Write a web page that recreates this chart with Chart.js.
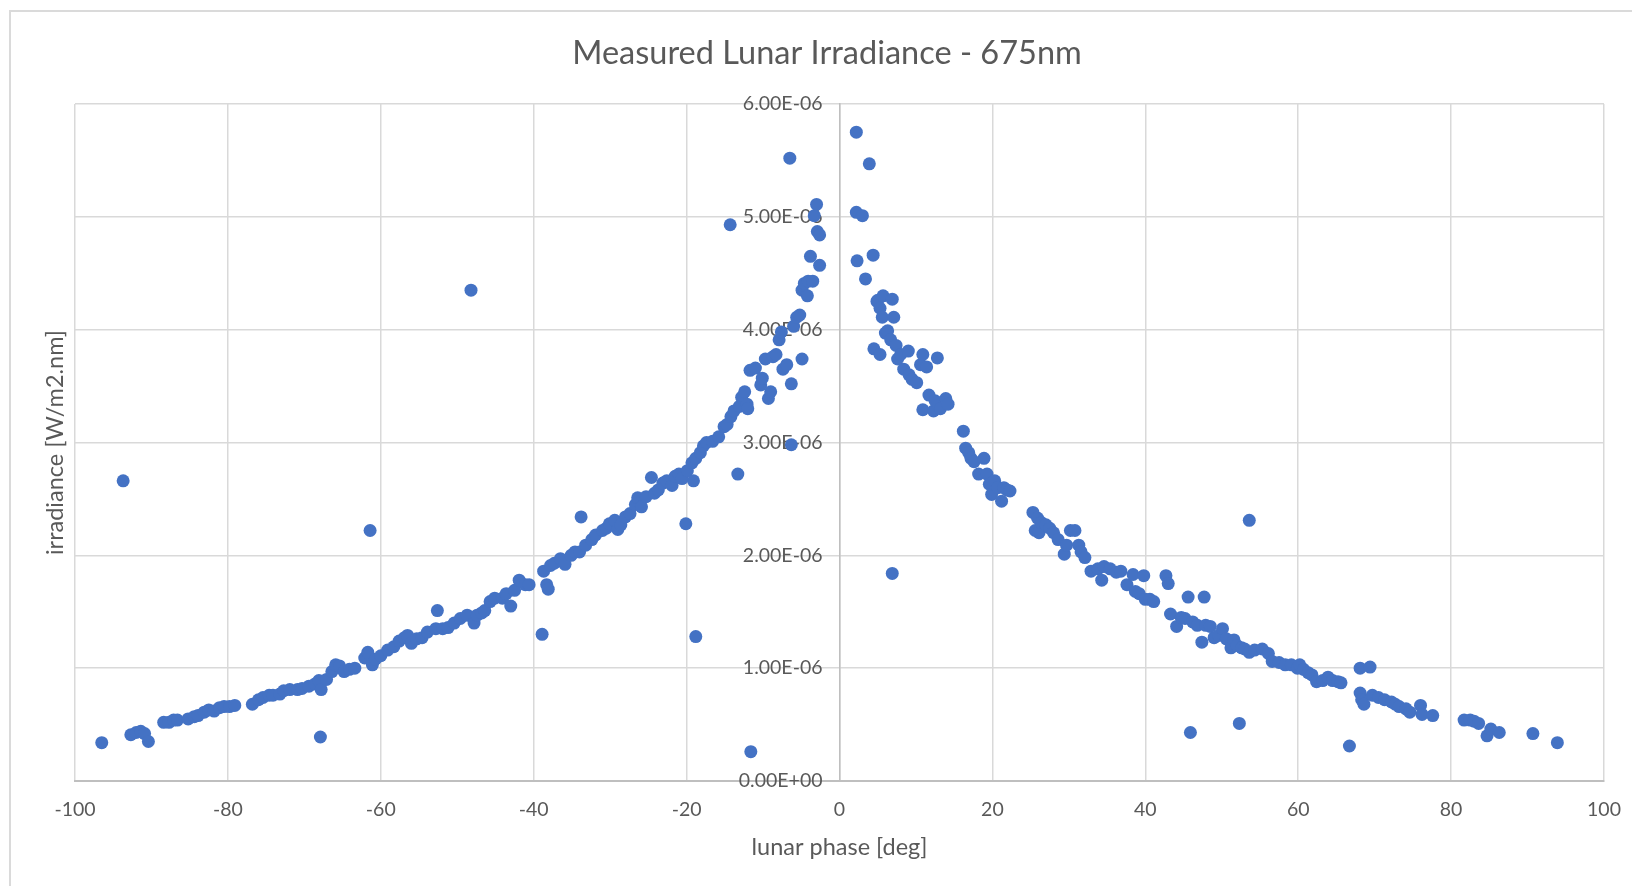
<!DOCTYPE html>
<html><head><meta charset="utf-8">
<script src="https://cdn.jsdelivr.net/npm/chart.js@4.4.1/dist/chart.umd.min.js"></script>
<style>
html,body{margin:0;padding:0;background:#fff;overflow:hidden;width:1632px;height:886px;}
#frame{position:absolute;left:9px;top:10px;width:4000px;height:4000px;border-left:2px solid #dadada;border-top:2px solid #dadada;}
#wrap{position:absolute;left:0;top:0;width:1632px;height:886px;}
</style></head><body>
<div id="frame"></div>
<div id="wrap"><canvas id="c"></canvas></div>
<script>
const chartTitle = 'Measured Lunar Irradiance - 675nm';
const xAxisTitle = 'lunar phase [deg]';
const yAxisTitle = 'irradiance [W/m2.nm]';
const xTicks = [-100, -80, -60, -40, -20, 0, 20, 40, 60, 80, 100];
const yTickValues = [0, 1e-6, 2e-6, 3e-6, 4e-6, 5e-6, 6e-6];
const yTickLabels = ['0.00E+00', '1.00E-06', '2.00E-06', '3.00E-06', '4.00E-06', '5.00E-06', '6.00E-06'];

// lunar phase [deg]
const phaseDeg = [
-96.5,-93.7,-92.7,-92.0,-91.4,-90.9,-90.4,-88.4,-87.7,-87.1,
-86.6,-85.2,-84.4,-83.9,-83.1,-82.5,-81.8,-81.1,-80.5,-79.8,
-79.1,-76.8,-76.0,-75.4,-74.6,-74.1,-73.2,-72.7,-71.9,-70.9,
-70.3,-69.4,-68.6,-68.1,-67.9,-67.8,-67.1,-66.4,-65.9,-65.4,
-64.8,-64.1,-63.4,-62.1,-61.7,-61.4,-61.1,-60.7,-60.0,-59.1,
-58.3,-57.6,-56.9,-56.5,-56.0,-55.3,-54.6,-53.9,-52.8,-52.6,
-51.9,-51.2,-50.4,-49.6,-48.7,-48.2,-47.8,-47.4,-46.8,-46.4,
-45.7,-45.1,-44.1,-43.6,-43.0,-42.5,-41.9,-41.1,-40.6,-38.9,
-38.7,-38.3,-38.1,-37.8,-37.3,-36.5,-35.9,-35.1,-34.6,-34.0,
-33.8,-33.2,-32.4,-31.9,-31.0,-30.5,-30.1,-29.4,-29.0,-28.6,
-28.0,-27.4,-26.7,-26.4,-25.9,-25.3,-24.6,-24.2,-23.7,-23.1,
-22.6,-21.9,-21.5,-21.0,-20.6,-20.1,-19.9,-19.3,-19.1,-18.8,
-18.8,-18.2,-17.8,-17.4,-16.6,-15.8,-15.1,-14.7,-14.3,-14.2,
-13.8,-13.3,-13.1,-12.8,-12.4,-12.1,-12.0,-11.7,-11.6,-11.0,
-10.3,-10.1,-9.7,-9.3,-9.0,-8.7,-8.3,-7.9,-7.6,-7.4,
-6.9,-6.5,-6.3,-6.3,-6.0,-5.6,-5.2,-4.9,-4.9,-4.6,
-4.2,-4.1,-3.8,-3.5,-3.3,-3.0,-2.9,-2.6,-2.6,
2.2,2.2,2.3,3.0,3.4,3.9,4.4,4.5,4.9,5.0,
5.3,5.3,5.6,5.7,6.0,6.3,6.7,6.9,6.9,7.1,
7.4,7.6,8.0,8.4,9.0,9.1,9.5,10.1,10.6,10.9,
10.9,11.4,11.7,12.3,12.5,12.8,13.2,13.9,14.2,16.2,
16.5,16.9,17.2,17.6,18.2,18.9,19.3,19.6,19.9,20.3,
20.7,21.2,21.5,21.9,22.3,25.3,25.6,25.9,26.1,26.4,
27.0,27.5,28.0,28.6,29.4,29.7,30.2,30.8,31.3,31.6,
32.1,32.9,33.8,34.3,34.6,35.4,36.2,36.8,37.6,38.4,
38.7,39.2,39.8,40.0,40.6,41.1,42.7,43.0,43.3,44.1,
44.7,45.2,45.6,45.9,46.2,46.8,47.4,47.7,47.9,48.5,
49.0,49.6,50.1,50.6,51.2,51.6,52.0,52.3,52.6,53.0,
53.6,53.6,54.3,55.3,56.1,56.6,57.5,58.3,59.1,59.9,
60.2,60.7,61.3,61.8,62.4,63.2,63.9,64.5,65.2,65.6,
66.7,68.1,68.1,68.3,68.6,69.4,69.7,70.5,71.3,72.2,
72.7,73.2,74.1,74.6,76.0,76.2,77.6,81.7,82.5,83.0,
83.6,84.7,85.2,86.3,90.7,93.9
];

// irradiance [W/m2.nm]
const irradiance = [
0.34e-6,2.66e-6,0.41e-6,0.43e-6,0.44e-6,0.42e-6,0.35e-6,0.52e-6,0.52e-6,0.54e-6,
0.54e-6,0.55e-6,0.57e-6,0.58e-6,0.61e-6,0.63e-6,0.62e-6,0.65e-6,0.66e-6,0.66e-6,
0.67e-6,0.68e-6,0.72e-6,0.74e-6,0.76e-6,0.76e-6,0.77e-6,0.80e-6,0.81e-6,0.81e-6,
0.82e-6,0.84e-6,0.86e-6,0.89e-6,0.39e-6,0.81e-6,0.90e-6,0.97e-6,1.03e-6,1.02e-6,
0.97e-6,0.99e-6,1.00e-6,1.09e-6,1.14e-6,2.22e-6,1.03e-6,1.08e-6,1.11e-6,1.16e-6,
1.19e-6,1.24e-6,1.27e-6,1.29e-6,1.22e-6,1.26e-6,1.27e-6,1.32e-6,1.35e-6,1.51e-6,
1.35e-6,1.36e-6,1.40e-6,1.44e-6,1.47e-6,4.35e-6,1.40e-6,1.47e-6,1.49e-6,1.51e-6,
1.59e-6,1.62e-6,1.62e-6,1.66e-6,1.55e-6,1.69e-6,1.78e-6,1.74e-6,1.74e-6,1.30e-6,
1.86e-6,1.74e-6,1.70e-6,1.91e-6,1.93e-6,1.97e-6,1.92e-6,2.00e-6,2.03e-6,2.03e-6,
2.34e-6,2.09e-6,2.14e-6,2.18e-6,2.22e-6,2.24e-6,2.28e-6,2.31e-6,2.23e-6,2.27e-6,
2.34e-6,2.37e-6,2.45e-6,2.51e-6,2.43e-6,2.52e-6,2.69e-6,2.55e-6,2.58e-6,2.64e-6,
2.66e-6,2.62e-6,2.70e-6,2.72e-6,2.68e-6,2.28e-6,2.75e-6,2.82e-6,2.66e-6,1.28e-6,
2.86e-6,2.91e-6,2.97e-6,3.00e-6,3.01e-6,3.05e-6,3.14e-6,3.16e-6,4.93e-6,3.23e-6,
3.28e-6,2.72e-6,3.32e-6,3.40e-6,3.45e-6,3.34e-6,3.30e-6,3.64e-6,0.26e-6,3.66e-6,
3.51e-6,3.57e-6,3.74e-6,3.39e-6,3.45e-6,3.76e-6,3.78e-6,3.91e-6,3.98e-6,3.65e-6,
3.69e-6,5.52e-6,2.98e-6,3.52e-6,4.03e-6,4.11e-6,4.13e-6,3.74e-6,4.35e-6,4.41e-6,
4.30e-6,4.43e-6,4.65e-6,4.43e-6,5.01e-6,5.11e-6,4.87e-6,4.84e-6,4.57e-6,
5.75e-6,5.04e-6,4.61e-6,5.01e-6,4.45e-6,5.47e-6,4.66e-6,3.83e-6,4.25e-6,4.26e-6,
4.19e-6,3.78e-6,4.11e-6,4.30e-6,3.97e-6,3.99e-6,3.91e-6,4.27e-6,1.84e-6,4.11e-6,
3.86e-6,3.74e-6,3.78e-6,3.65e-6,3.81e-6,3.60e-6,3.56e-6,3.53e-6,3.69e-6,3.78e-6,
3.29e-6,3.67e-6,3.42e-6,3.28e-6,3.37e-6,3.75e-6,3.30e-6,3.39e-6,3.34e-6,3.10e-6,
2.95e-6,2.91e-6,2.86e-6,2.83e-6,2.72e-6,2.86e-6,2.72e-6,2.63e-6,2.54e-6,2.66e-6,
2.60e-6,2.48e-6,2.60e-6,2.58e-6,2.57e-6,2.38e-6,2.22e-6,2.33e-6,2.20e-6,2.29e-6,
2.27e-6,2.24e-6,2.20e-6,2.14e-6,2.01e-6,2.09e-6,2.22e-6,2.22e-6,2.09e-6,2.03e-6,
1.98e-6,1.86e-6,1.88e-6,1.78e-6,1.90e-6,1.88e-6,1.85e-6,1.86e-6,1.74e-6,1.83e-6,
1.68e-6,1.66e-6,1.82e-6,1.61e-6,1.61e-6,1.59e-6,1.82e-6,1.75e-6,1.48e-6,1.37e-6,
1.45e-6,1.44e-6,1.63e-6,0.43e-6,1.41e-6,1.38e-6,1.23e-6,1.63e-6,1.38e-6,1.37e-6,
1.27e-6,1.29e-6,1.35e-6,1.26e-6,1.18e-6,1.25e-6,1.20e-6,0.51e-6,1.18e-6,1.17e-6,
2.31e-6,1.14e-6,1.16e-6,1.17e-6,1.13e-6,1.06e-6,1.05e-6,1.03e-6,1.03e-6,1.00e-6,
1.03e-6,0.99e-6,0.96e-6,0.94e-6,0.88e-6,0.89e-6,0.92e-6,0.89e-6,0.88e-6,0.87e-6,
0.31e-6,1.00e-6,0.78e-6,0.72e-6,0.68e-6,1.01e-6,0.76e-6,0.74e-6,0.72e-6,0.70e-6,
0.68e-6,0.66e-6,0.64e-6,0.61e-6,0.67e-6,0.59e-6,0.58e-6,0.54e-6,0.54e-6,0.53e-6,
0.51e-6,0.40e-6,0.46e-6,0.43e-6,0.42e-6,0.34e-6
];

const points = phaseDeg.map((x, i) => ({ x: x, y: irradiance[i] }));

const textColor = '#595959';
const fontFamily = 'Lato, "Open Sans", sans-serif';

// Excel centres the title over the whole chart object (frame), not the plot area
const titleShift = {
  id: 'titleShift',
  afterLayout(chart) {
    const tb = chart.titleBlock;
    if (tb) { tb.left = 50; tb.right = 1604; }
  }
};

new Chart(document.getElementById('c'), {
  type: 'scatter',
  data: {
    datasets: [{
      data: points,
      backgroundColor: '#4472C4',
      borderColor: '#4472C4',
      borderWidth: 0,
      pointRadius: 6.5,
      pointHoverRadius: 6.5
    }]
  },
  plugins: [titleShift],
  options: {
    responsive: true,
    maintainAspectRatio: false,
    animation: false,
    layout: { padding: { left: 0, right: 28, top: 0, bottom: 0 } },
    plugins: {
      legend: { display: false },
      tooltip: { enabled: false },
      title: {
        display: true,
        text: chartTitle,
        color: textColor,
        font: { family: fontFamily, size: 32.5, weight: 'normal' },
        padding: { top: 34, bottom: 31 }
      }
    },
    scales: {
      x: {
        type: 'linear',
        position: 'bottom',
        min: -100, max: 100,
        afterBuildTicks: s => { s.ticks = xTicks.map(v => ({ value: v })); },
        afterFit: s => { s.height = 105; s.paddingLeft = 0; s.paddingRight = 0; },
        ticks: {
          color: textColor,
          font: { family: fontFamily, size: 19.5 },
          padding: 17,
          callback: v => String(v)
        },
        grid: { color: '#d9d9d9', lineWidth: 1.5, drawTicks: false },
        border: { display: true, color: '#bfbfbf', width: 2 },
        title: {
          display: true,
          text: xAxisTitle,
          color: textColor,
          font: { family: fontFamily, size: 23.5 },
          padding: { top: 10, bottom: 24 }
        }
      },
      y: {
        type: 'linear',
        position: 'center',
        min: 0, max: 6e-6,
        afterBuildTicks: s => { s.ticks = yTickValues.map(v => ({ value: v })); },
        ticks: {
          color: textColor,
          font: { family: fontFamily, size: 19.5 },
          padding: 17,
          callback: (v, i) => yTickLabels[i]
        },
        grid: { color: '#d9d9d9', lineWidth: 1.5, drawTicks: false },
        border: { display: true, color: '#bfbfbf', width: 1.5 }
      },
      yTitle: {
        type: 'linear',
        axis: 'y',
        position: 'left',
        display: true,
        min: 0, max: 1,
        afterFit: s => { s.width = 75; },
        ticks: { display: false },
        grid: { display: false, drawTicks: false },
        border: { display: false },
        title: {
          display: true,
          text: yAxisTitle,
          color: textColor,
          font: { family: fontFamily, size: 23.5 },
          padding: { top: 41, bottom: 5 }
        }
      }
    }
  }
});
</script>
</body></html>
